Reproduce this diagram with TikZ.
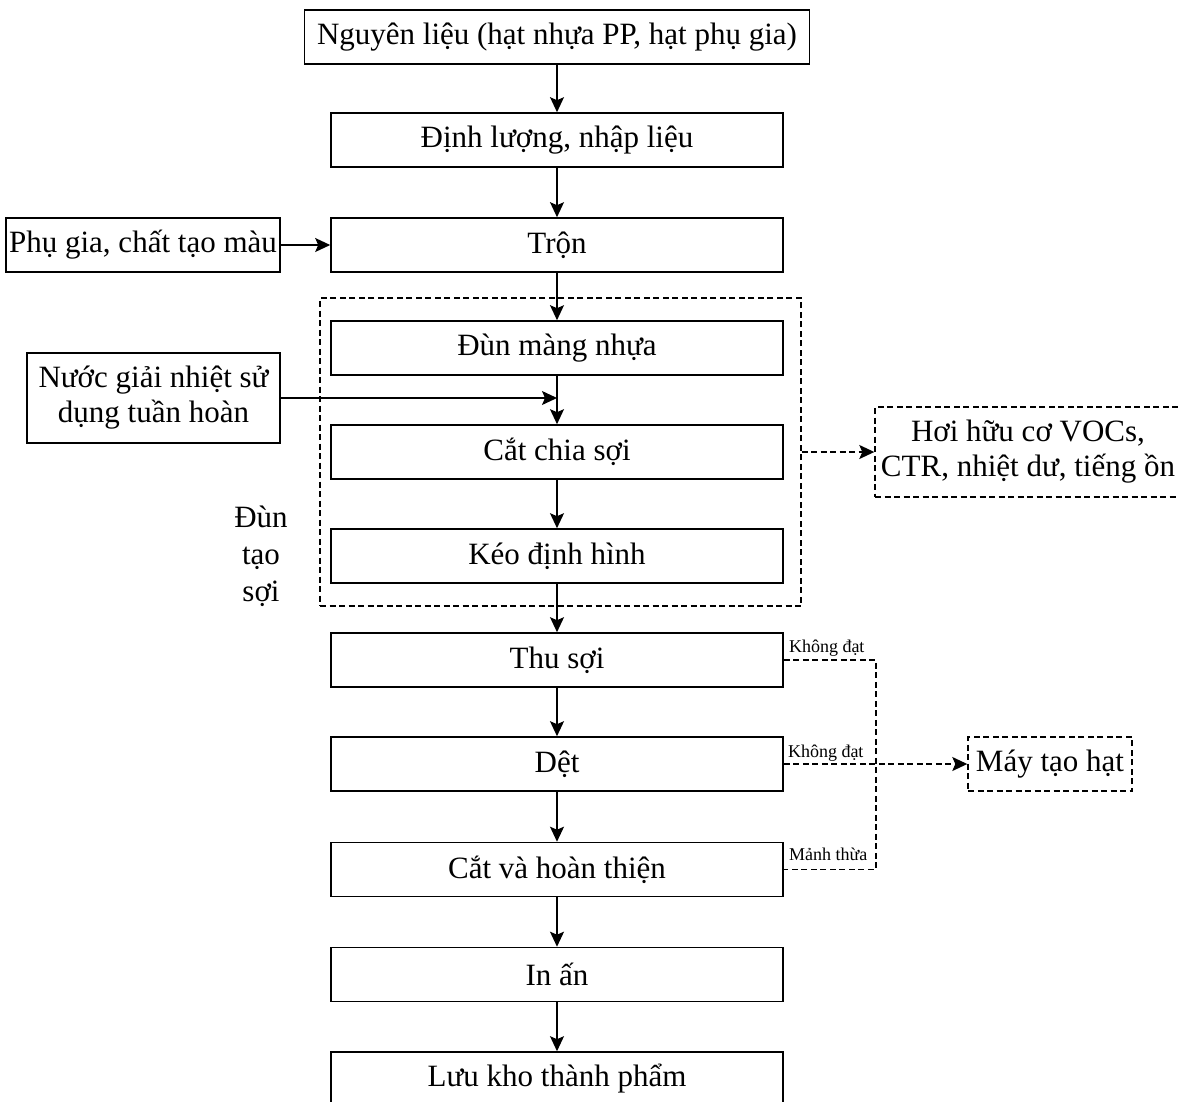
\documentclass[tikz,border=0pt]{standalone}
\usepackage{fontspec}
\setmainfont{Liberation Serif}
\usetikzlibrary{arrows.meta}
\begin{document}
\begin{tikzpicture}[x=1pt,y=-1pt,
  every node/.style={font=\fontsize{31}{35}\selectfont, inner sep=0pt},
  stepbox/.style={draw, line width=1.6pt, minimum width=452pt, minimum height=54pt},
  sidebox/.style={draw, line width=1.6pt, align=center},
  dashbox/.style={draw, line width=1.4pt, dash pattern=on 6pt off 3.5pt},
  flow/.style={line width=1.4pt, -{Stealth[length=15pt,width=14pt,inset=3pt]}},
  dashline/.style={line width=1.4pt, dash pattern=on 6pt off 3.5pt},
  dflow/.style={flow, dash pattern=on 6pt off 3.5pt},
  tag/.style={font=\fontsize{18}{20}\selectfont, anchor=base west}
]
\useasboundingbox (0,0) rectangle (1178,1101);

% main process chain
\node[stepbox, minimum width=505pt] (nl) at (557,37) {Nguyên liệu (hạt nhựa PP, hạt phụ gia)};
\node[stepbox] (dl) at (557,140) {Định lượng, nhập liệu};
\node[stepbox] (tron) at (557,245) {Trộn};
\node[stepbox] (dun) at (557,348) {Đùn màng nhựa};
\node[stepbox] (cat) at (557,452) {Cắt chia sợi};
\node[stepbox] (keo) at (557,556) {Kéo định hình};
\node[stepbox] (thu) at (557,660) {Thu sợi};
\node[stepbox] (det) at (557,764) {Dệt};
\node[stepbox] (hoan) at (557,869.5) {Cắt và hoàn thiện};
\node[stepbox] (in) at (557,974.5) {In ấn};
\node[stepbox] (luu) at (557,1079) {Lưu kho thành phẩm};

% side inputs
\node[sidebox, minimum width=274pt, minimum height=54pt] (pg) at (143,245) {Phụ gia, chất tạo màu};
\node[sidebox, minimum width=253pt, minimum height=90pt] (nuoc) at (153.5,398) {Nước giải nhiệt sử\\dụng tuần hoàn};

% extrusion group
\node[dashbox, minimum width=481pt, minimum height=308pt] (grp) at (560.5,452) {};
\node[align=center, font=\fontsize{31}{37}\selectfont] (lbl) at (261,556) {Đùn\\tạo\\sợi};

% outputs
\node[dashbox, align=center, minimum width=306pt, minimum height=90pt] (hoi) at (1028,452) {Hơi hữu cơ VOCs,\\CTR, nhiệt dư, tiếng ồn};
\node[dashbox, minimum width=164pt, minimum height=54pt] (may) at (1050,764) {Máy tạo hạt};

% connectors
\draw[flow] (nl) -- (dl);
\draw[flow] (dl) -- (tron);
\draw[flow] (pg) -- (tron);
\draw[flow] (tron) -- (dun);
\draw[flow] (dun) -- (cat);
\draw[flow] (nuoc.east) -- (nuoc.east -| cat);
\draw[flow] (cat) -- (keo);
\draw[flow] (keo) -- (thu);
\draw[flow] (thu) -- (det);
\draw[flow] (det) -- (hoan);
\draw[flow] (hoan) -- (in);
\draw[flow] (in) -- (luu);
\draw[dflow] (grp.east) -- (hoi.west);

% reject / scrap return line
\coordinate (bus) at (876,764);
\draw[dashline] (thu.east) -- (thu.east -| bus) -- (hoan.east -| bus) -- (hoan.east);
\draw[dflow] (det.east) -- (may.west);
\node[tag] (t1) at ([shift={(5pt,8pt)}]thu.east) {Không đạt};
\node[tag] (t2) at ([shift={(4pt,7pt)}]det.east) {Không đạt};
\node[tag] (t3) at ([shift={(5pt,9pt)}]hoan.east) {Mảnh thừa};
\end{tikzpicture}
\end{document}
